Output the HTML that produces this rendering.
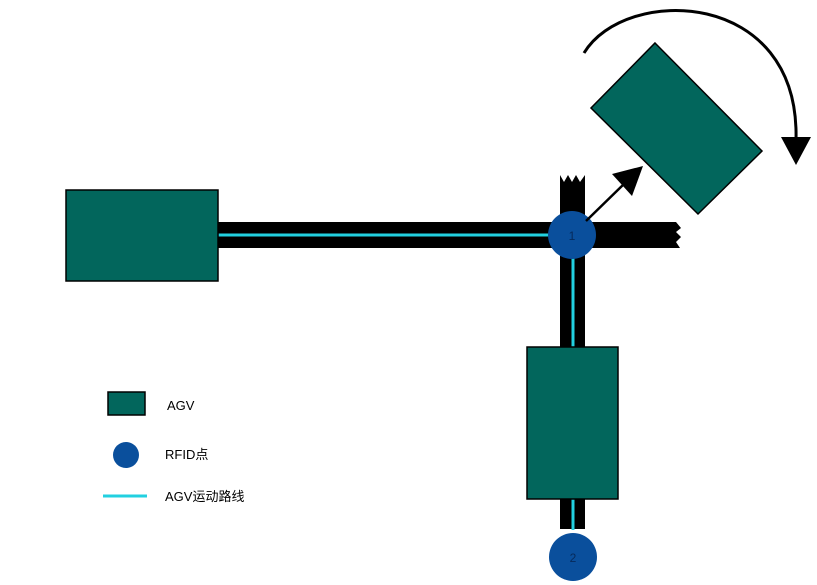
<!DOCTYPE html>
<html><head><meta charset="utf-8"><style>body{margin:0;background:#fff}svg{display:block}</style></head><body>
<svg width="817" height="585" viewBox="0 0 817 585" xmlns="http://www.w3.org/2000/svg">
<polygon points="218,222 676,222 681,228 676,232 681,237 676,242 680,248 218,248" fill="#000"/>
<polygon points="560,529 560,175 564,182 568,175 572,182 576,175 580,182 585,175 585,529" fill="#000"/>
<line x1="218" y1="235" x2="572" y2="235" stroke="#22d0e0" stroke-width="3"/>
<line x1="573" y1="235" x2="573" y2="530" stroke="#22d0e0" stroke-width="3"/>
<rect x="66" y="190" width="152" height="91" fill="#02665c" stroke="#000" stroke-width="1.5"/>
<rect x="527" y="347" width="91" height="152" fill="#02665c" stroke="#000" stroke-width="1.5"/>
<polygon points="655,43 762,151 698,214 591,108" fill="#02665c" stroke="#000" stroke-width="1.5"/>
<circle cx="572" cy="235" r="24" fill="#0a4f9c"/>
<text x="572" y="240" font-family="Liberation Sans,sans-serif" font-size="12" text-anchor="middle" fill="#062a5a">1</text>
<circle cx="573" cy="557" r="24" fill="#0a4f9c"/>
<text x="573" y="562" font-family="Liberation Sans,sans-serif" font-size="12" text-anchor="middle" fill="#062a5a">2</text>
<line x1="586" y1="221" x2="625" y2="183" stroke="#000" stroke-width="2.5"/>
<polygon points="643,166 612,174 632,196" fill="#000"/>
<path d="M584,53 C625,-15 800,-12 796,140" fill="none" stroke="#000" stroke-width="3"/>
<polygon points="781,137 811,137 796,165" fill="#000"/>
<rect x="108" y="392" width="37" height="23" fill="#02665c" stroke="#000" stroke-width="1.5"/>
<circle cx="126" cy="455" r="13" fill="#0a4f9c"/>
<line x1="103" y1="496" x2="147" y2="496" stroke="#22d0e0" stroke-width="3"/>
<g font-family="Liberation Sans,'Noto Sans CJK SC',sans-serif" font-size="13" fill="#000">
<text x="167" y="410">AGV</text>
<text x="165" y="459">RFID点</text>
<text x="165" y="501">AGV运动路线</text>
</g>
</svg>
</body></html>
